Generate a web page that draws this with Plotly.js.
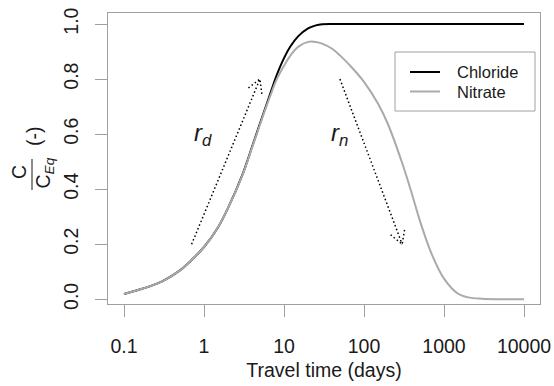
<!DOCTYPE html>
<html>
<head>
<meta charset="utf-8">
<script src="https://cdn.plot.ly/plotly-3.0.1.min.js"></script>
<style>html,body{margin:0;padding:0;background:#fff;}#chart{width:554px;height:386px;}</style>
</head>
<body>
<div id="chart"></div>
<script>
// ---- data ----
const travelTime = [0.1, 0.15, 0.2, 0.3, 0.5, 0.7, 1, 1.5, 2, 3, 4, 5, 6, 7, 8, 10, 12, 15, 20, 25, 30, 40, 50, 70, 100, 150, 200, 300, 400, 500, 700, 1000, 1500, 2000, 3000, 5000, 10000];
const chloride = [0.019, 0.034, 0.045, 0.065, 0.105, 0.143, 0.19, 0.262, 0.332, 0.45, 0.555, 0.638, 0.705, 0.762, 0.81, 0.876, 0.918, 0.955, 0.984, 0.995, 0.999, 1, 1, 1, 1, 1, 1, 1, 1, 1, 1, 1, 1, 1, 1, 1, 1];
const nitrate = [0.019, 0.034, 0.045, 0.065, 0.105, 0.143, 0.19, 0.262, 0.332, 0.448, 0.552, 0.634, 0.70, 0.752, 0.795, 0.848, 0.885, 0.917, 0.935, 0.935, 0.929, 0.91, 0.886, 0.843, 0.79, 0.71, 0.635, 0.495, 0.38, 0.285, 0.165, 0.075, 0.02, 0.007, 0.002, 0.0, 0.0];
const seriesNames = ['Chloride', 'Nitrate'];
const xTickVals = [0.1, 1, 10, 100, 1000, 10000];
const xTickText = ['0.1', '1', '10', '100', '1000', '10000'];
const yTickVals = [0, 0.2, 0.4, 0.6, 0.8, 1.0];
const yTickText = ['0.0', '0.2', '0.4', '0.6', '0.8', '1.0'];
const arrowDX = [0.7, 5];
const arrowDY = [0.2, 0.8];
const arrowNX = [50, 300];
const arrowNY = [0.8, 0.2];
const xTitle = 'Travel time (days)';

// ---- layout geometry ----
const W = 554, H = 386;
const M = {l: 108, r: 14, t: 13, b: 82};
const xRange = [-1.2, 4.2];
const yRange = [-0.0171, 1.04];
const plotW = W - M.l - M.r, plotH = H - M.t - M.b;
const pxPerDec = plotW / (xRange[1] - xRange[0]);
const pxPerUnit = plotH / (yRange[1] - yRange[0]);
const FONT = 'Liberation Sans, Arial, Helvetica, sans-serif';
const TXT = '#1a1a1a';
const AX = '#a0a0a0';

function arrowHead(xs, ys, len, angDeg) {
  const lx0 = Math.log10(xs[0]), lx1 = Math.log10(xs[1]);
  const dxp = (lx1 - lx0) * pxPerDec;
  const dyp = -(ys[1] - ys[0]) * pxPerUnit;
  const th = Math.atan2(dyp, dxp);
  const a = angDeg * Math.PI / 180;
  const p1 = th + Math.PI - a, p2 = th + Math.PI + a;
  return {
    x: [Math.pow(10, lx1 + len * Math.cos(p1) / pxPerDec), xs[1], Math.pow(10, lx1 + len * Math.cos(p2) / pxPerDec)],
    y: [ys[1] - len * Math.sin(p1) / pxPerUnit, ys[1], ys[1] - len * Math.sin(p2) / pxPerUnit]
  };
}

const dotLine = {color: '#000', width: 1.5, dash: '1.5px,2.5px'};
const headD = arrowHead(arrowDX, arrowDY, 15, 30);
const headN = arrowHead(arrowNX, arrowNY, 15, 30);

const traces = [
  {x: travelTime, y: chloride, name: seriesNames[0], type: 'scatter', mode: 'lines',
   line: {color: '#000000', width: 2, shape: 'spline', smoothing: 1}, hoverinfo: 'skip'},
  {x: travelTime, y: nitrate, name: seriesNames[1], type: 'scatter', mode: 'lines',
   line: {color: '#aaaaaa', width: 2, shape: 'spline', smoothing: 1}, hoverinfo: 'skip'},
  {x: arrowDX, y: arrowDY, type: 'scatter', mode: 'lines', line: dotLine, hoverinfo: 'skip'},
  {x: headD.x, y: headD.y, type: 'scatter', mode: 'lines', line: dotLine, hoverinfo: 'skip'},
  {x: arrowNX, y: arrowNY, type: 'scatter', mode: 'lines', line: dotLine, hoverinfo: 'skip'},
  {x: headN.x, y: headN.y, type: 'scatter', mode: 'lines', line: dotLine, hoverinfo: 'skip'}
];

// pixel -> paper helpers for decorations
const px = v => (v - M.l) / plotW;
const py = v => (H - M.b - v) / plotH;

const legendBox = {x0: 395, x1: 535, y0: 52, y1: 111};
const legendRows = [72, 91.5];
const legendColors = ['#000000', '#aaaaaa'];

const shapes = [
  {type: 'rect', xref: 'paper', yref: 'paper', x0: px(legendBox.x0), x1: px(legendBox.x1),
   y0: py(legendBox.y1), y1: py(legendBox.y0), line: {color: AX, width: 1}, fillcolor: '#ffffff', layer: 'above'},
  {type: 'line', xref: 'paper', yref: 'paper', x0: px(32), x1: px(32), y0: py(159), y1: py(190),
   line: {color: TXT, width: 1}}
];
const annotations = [];
seriesNames.forEach((n, i) => {
  shapes.push({type: 'line', xref: 'paper', yref: 'paper', x0: px(410), x1: px(440),
    y0: py(legendRows[i]), y1: py(legendRows[i]), line: {color: legendColors[i], width: 2}});
  annotations.push({xref: 'paper', yref: 'paper', x: px(455), y: py(legendRows[i]), xanchor: 'left', yanchor: 'middle',
    text: n, showarrow: false, font: {family: FONT, size: 16.5, color: TXT}});
});
// y-axis title as fraction C / C_Eq (-)
annotations.push({xref: 'paper', yref: 'paper', x: 0, xshift: 18.5 - M.l, y: py(172.5), textangle: -90,
  text: 'C', showarrow: false, xanchor: 'center', yanchor: 'middle', font: {family: FONT, size: 19.5, color: TXT}});
annotations.push({xref: 'paper', yref: 'paper', x: 0, xshift: 44 - M.l, y: py(173.5), textangle: -90,
  text: 'C<sub><i>Eq</i></sub>', showarrow: false, xanchor: 'center', yanchor: 'middle', font: {family: FONT, size: 19.5, color: TXT}});
annotations.push({xref: 'paper', yref: 'paper', x: 0, xshift: 34 - M.l, y: py(137), textangle: -90,
  text: '(-)', showarrow: false, xanchor: 'center', yanchor: 'middle', font: {family: FONT, size: 19.5, color: TXT}});
// r_d and r_n labels
annotations.push({xref: 'x', yref: 'y', x: -0.016, y: 0.60, text: '<i>r<sub>d</sub></i>', showarrow: false,
  font: {family: FONT, size: 24, color: TXT}});
annotations.push({xref: 'x', yref: 'y', x: 1.696, y: 0.60, text: '<i>r<sub>n</sub></i>', showarrow: false,
  font: {family: FONT, size: 24, color: TXT}});

const layout = {
  width: W, height: H, margin: M,
  paper_bgcolor: '#ffffff', plot_bgcolor: '#ffffff',
  font: {family: FONT, size: 19.5, color: TXT},
  showlegend: false,
  xaxis: {
    type: 'log', range: xRange, tickmode: 'array', tickvals: xTickVals, ticktext: xTickText,
    ticks: 'outside', ticklen: 12, tickwidth: 1, tickcolor: AX, ticklabelstandoff: 13,
    showline: true, linecolor: AX, linewidth: 1, mirror: true, showgrid: false, zeroline: false,
    tickfont: {family: FONT, size: 19.5, color: TXT},
    title: {text: xTitle, font: {family: FONT, size: 19.5, color: TXT}, standoff: 6}
  },
  yaxis: {
    range: yRange, tickmode: 'array', tickvals: yTickVals, ticktext: yTickText, tickangle: -90,
    ticks: 'outside', ticklen: 12, tickwidth: 1, tickcolor: AX, ticklabelstandoff: 9,
    showline: true, linecolor: AX, linewidth: 1, mirror: true, showgrid: false, zeroline: false,
    tickfont: {family: FONT, size: 19.5, color: TXT}
  },
  shapes: shapes,
  annotations: annotations
};

Plotly.newPlot('chart', traces, layout, {staticPlot: true, displayModeBar: false});
</script>
</body>
</html>
